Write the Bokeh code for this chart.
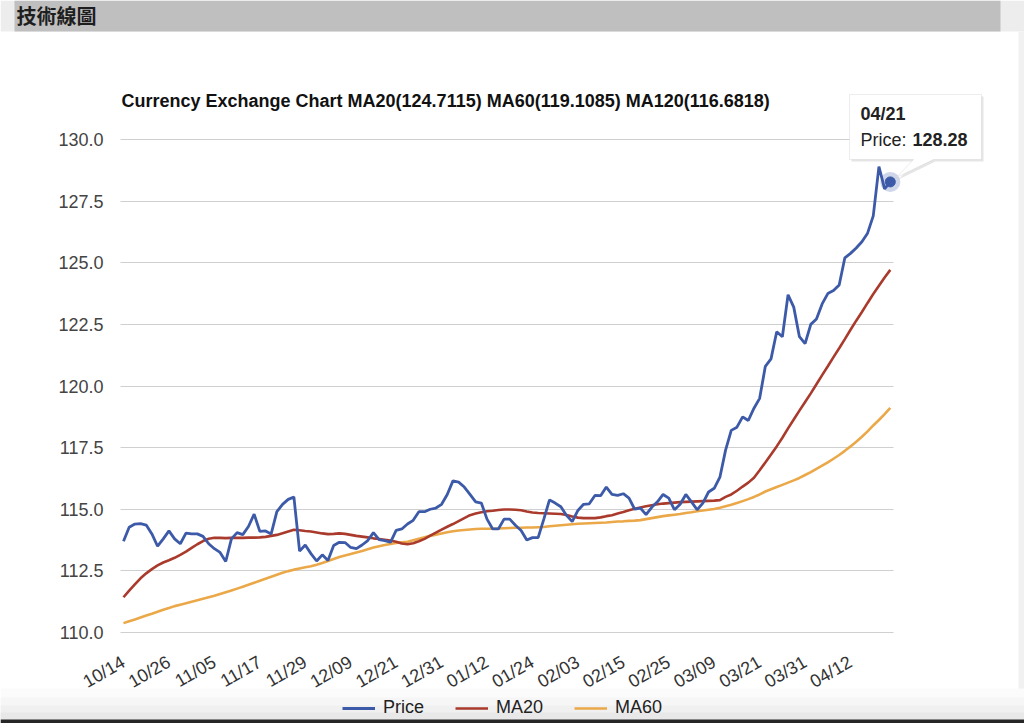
import math
from bokeh.plotting import figure
from bokeh.models import (Range1d, FixedTicker, PrintfTickFormatter, Legend, LegendItem,
                          Label, PolyAnnotation, BoxAnnotation)
from bokeh.embed import file_html
from bokeh.resources import INLINE

# ---------------- data ----------------
BANNER_TEXT = "技術線圖"
TITLE = "Currency Exchange Chart MA20(124.7115) MA60(119.1085) MA120(116.6818)"

PRICE = [
    113.70, 114.27, 114.40, 114.42, 114.36, 114.00, 113.50, 113.80, 114.12, 113.80,
    113.60, 114.03, 114.00, 114.00, 113.90, 113.60, 113.40, 113.25, 112.88, 113.80,
    114.05, 113.97, 114.30, 114.80, 114.10, 114.12, 114.00, 114.90, 115.20, 115.40,
    115.50, 113.30, 113.55, 113.20, 112.90, 113.15, 112.92, 113.53, 113.66, 113.65,
    113.45, 113.40, 113.55, 113.73, 114.05, 113.77, 113.73, 113.66, 114.14, 114.20,
    114.40, 114.55, 114.90, 114.90, 115.00, 115.05, 115.20, 115.60, 116.15, 116.10,
    115.90, 115.60, 115.30, 115.25, 114.60, 114.20, 114.20, 114.60, 114.60, 114.35,
    114.14, 113.75, 113.85, 113.85, 114.60, 115.38, 115.25, 115.10, 114.75, 114.50,
    114.95, 115.20, 115.22, 115.56, 115.55, 115.90, 115.60, 115.56, 115.63, 115.45,
    115.00, 115.05, 114.78, 115.08, 115.30, 115.60, 115.45, 114.98, 115.20, 115.60,
    115.30, 114.98, 115.25, 115.70, 115.85, 116.30, 117.40, 118.20, 118.33, 118.75,
    118.60, 119.10, 119.50, 120.80, 121.10, 122.20, 122.00, 123.70, 123.20, 122.00,
    121.72, 122.50, 122.72, 123.33, 123.75, 123.87, 124.10, 125.20, 125.38, 125.60,
    125.85, 126.20, 126.90, 128.90, 128.00, 128.28,
]

MA20 = [
    111.43, 111.70, 111.95, 112.20, 112.40, 112.57, 112.72, 112.84, 112.93, 113.03,
    113.15, 113.28, 113.43, 113.58, 113.71, 113.80, 113.84, 113.84, 113.83, 113.84,
    113.84, 113.84, 113.85, 113.85, 113.86, 113.88, 113.92, 113.96, 114.03, 114.10,
    114.17, 114.15, 114.12, 114.10, 114.06, 114.02, 113.99, 114.00, 114.02, 114.00,
    113.96, 113.92, 113.89, 113.86, 113.82, 113.79, 113.76, 113.73, 113.68, 113.61,
    113.58, 113.62, 113.70, 113.80, 113.93, 114.05, 114.17, 114.29, 114.40, 114.52,
    114.64, 114.76, 114.83, 114.88, 114.92, 114.94, 114.97, 114.99, 114.99, 114.98,
    114.96, 114.91, 114.87, 114.85, 114.84, 114.83, 114.82, 114.81, 114.77, 114.71,
    114.66, 114.64, 114.64, 114.64, 114.67, 114.72, 114.76, 114.83, 114.89, 114.96,
    115.02, 115.07, 115.12, 115.16, 115.20, 115.23, 115.25, 115.27, 115.29, 115.30,
    115.31, 115.32, 115.33, 115.34, 115.35, 115.37, 115.50, 115.60, 115.75, 115.92,
    116.08, 116.28, 116.58, 116.90, 117.22, 117.55, 117.90, 118.28, 118.64, 119.00,
    119.35, 119.70, 120.07, 120.44, 120.80, 121.17, 121.53, 121.90, 122.28, 122.65,
    123.00, 123.37, 123.73, 124.07, 124.40, 124.71,
]

MA60 = [
    110.38, 110.46, 110.53, 110.61, 110.69, 110.76, 110.84, 110.92, 110.99, 111.07,
    111.13, 111.19, 111.25, 111.31, 111.37, 111.43, 111.49, 111.56, 111.63, 111.70,
    111.78, 111.86, 111.94, 112.02, 112.10, 112.18, 112.26, 112.34, 112.42, 112.49,
    112.55, 112.60, 112.65, 112.69, 112.75, 112.82, 112.90, 112.98, 113.06, 113.12,
    113.18, 113.25, 113.31, 113.38, 113.45, 113.50, 113.55, 113.59, 113.63, 113.66,
    113.68, 113.74, 113.80, 113.86, 113.92, 113.97, 114.02, 114.07, 114.11, 114.14,
    114.16, 114.18, 114.20, 114.21, 114.21, 114.21, 114.22, 114.23, 114.24, 114.25,
    114.25, 114.26, 114.26, 114.27, 114.28, 114.31, 114.33, 114.35, 114.37, 114.39,
    114.41, 114.42, 114.43, 114.44, 114.45, 114.46, 114.48, 114.50, 114.51, 114.53,
    114.54, 114.56, 114.60, 114.64, 114.68, 114.72, 114.75, 114.78, 114.81, 114.85,
    114.88, 114.92, 114.95, 114.98, 115.01, 115.06, 115.12, 115.18, 115.25, 115.33,
    115.41, 115.50, 115.60, 115.72, 115.81, 115.90, 115.99, 116.08, 116.17, 116.27,
    116.39, 116.51, 116.64, 116.77, 116.90, 117.05, 117.20, 117.37, 117.55, 117.74,
    117.94, 118.16, 118.40, 118.62, 118.86, 119.11,
]

X_TICK_LABELS = ["10/14", "10/26", "11/05", "11/17", "11/29", "12/09", "12/21", "12/31",
                 "01/12", "01/24", "02/03", "02/15", "02/25", "03/09", "03/21", "03/31", "04/12"]
X_TICK_STEP = 8
Y_TICKS = [110.0, 112.5, 115.0, 117.5, 120.0, 122.5, 125.0, 127.5, 130.0]

TOOLTIP_DATE = "04/21"
TOOLTIP_PRICE = "128.28"
LAST_PRICE = 128.28

# ---------------- layout / style ----------------
FONT = "Liberation Sans"
C_PRICE = "#3c5aa8"
C_MA20 = "#a93a2c"
C_MA60 = "#eba848"

W, H = 1024, 723          # canvas (the page renders it at the top-left corner)
# plot area on the page (px)
PA_L, PA_R, PA_T, PA_B = 120, 893, 139, 632
X0_PX, X_PX_PER = 123.0, 5.68   # page x of first point, px per point
Y_LO, Y_HI = 110.0, 130.0

x = list(range(len(PRICE)))


def dx(px):
    return (px - X0_PX) / X_PX_PER


def dy(py):
    return Y_HI - (py - PA_T) / (PA_B - PA_T) * (Y_HI - Y_LO)


p = figure(width=W, height=H,
           x_range=Range1d(dx(0), dx(W)),
           y_range=Range1d(dy(H), dy(0)),
           toolbar_location=None, output_backend="svg",
           min_border_left=0, min_border_right=0, min_border_top=0, min_border_bottom=0)
p.background_fill_color = "white"
p.border_fill_color = "white"
p.outline_line_color = None

# banner band
p.add_layout(BoxAnnotation(left=dx(0), right=dx(W), top=dy(0), bottom=dy(31),
                           fill_color="#ededed", fill_alpha=1, line_color=None, level="underlay"))
p.add_layout(BoxAnnotation(left=dx(14), right=dx(1000), top=dy(0), bottom=dy(31),
                           fill_color="#bfbfbf", fill_alpha=1, line_color=None, level="underlay"))
p.add_layout(Label(x=dx(16), y=dy(15), text=BANNER_TEXT, text_font="Noto Sans CJK TC",
                   text_font_style="bold", text_font_size="20px", text_color="#1e1e1e",
                   text_baseline="middle", text_align="left"))
# faint right frame edge, bottom shading and the dark bottom edge
p.add_layout(BoxAnnotation(left=dx(1018), right=dx(W), top=dy(31), bottom=dy(H),
                           fill_color="#f1f1f1", fill_alpha=1, line_color=None, level="underlay"))
for top_px, col in [(688, "#fbfbfb"), (697, "#f6f6f6"), (705, "#f0f0f0"), (712, "#e8e8e8"),
                    (719, "#262626")]:
    p.add_layout(BoxAnnotation(left=dx(0), right=dx(W), top=dy(top_px),
                               bottom=dy(H), fill_color=col, fill_alpha=1,
                               line_color=None, level="underlay"))

# chart title
p.add_layout(Label(x=dx(121), y=dy(100), text=TITLE, text_font=FONT, text_font_size="18px",
                   text_font_style="bold", text_color="#111111", text_baseline="middle",
                   text_align="left"))

# grid
p.xgrid.grid_line_color = None
p.ygrid.ticker = FixedTicker(ticks=Y_TICKS)
p.ygrid.grid_line_color = "#cfcfcf"
p.ygrid.grid_line_width = 1
p.ygrid.bounds = (Y_LO, Y_HI)
p.ygrid.cross_bounds = (dx(PA_L), dx(PA_R))

# y axis
p.yaxis.fixed_location = dx(PA_L)
p.yaxis.bounds = (Y_LO, Y_HI)
p.yaxis.ticker = FixedTicker(ticks=Y_TICKS)
p.yaxis.formatter = PrintfTickFormatter(format="%.1f")
p.yaxis.axis_line_color = None
p.yaxis.major_tick_line_color = None
p.yaxis.minor_tick_line_color = None
p.yaxis.major_tick_out = 0
p.yaxis.major_tick_in = 0
p.yaxis.major_label_standoff = 17
p.yaxis.major_label_text_font = FONT
p.yaxis.major_label_text_font_size = "18px"
p.yaxis.major_label_text_color = "#444444"

# x axis
tick_pos = [i * X_TICK_STEP for i in range(len(X_TICK_LABELS))]
p.xaxis.fixed_location = Y_LO
p.xaxis.bounds = (0, len(PRICE) - 1)
p.xaxis.ticker = FixedTicker(ticks=tick_pos)
p.xaxis.major_label_overrides = {t: lab for t, lab in zip(tick_pos, X_TICK_LABELS)}
p.xaxis.axis_line_color = None
p.xaxis.major_tick_line_color = None
p.xaxis.minor_tick_line_color = None
p.xaxis.major_tick_out = 0
p.xaxis.major_tick_in = 0
p.xaxis.major_label_standoff = 28
p.xaxis.major_label_orientation = math.pi / 6
p.xaxis.major_label_text_font = FONT
p.xaxis.major_label_text_font_size = "18px"
p.xaxis.major_label_text_color = "#333333"

# series
r60 = p.line(x, MA60, line_color=C_MA60, line_width=2.6)
r20 = p.line(x, MA20, line_color=C_MA20, line_width=2.6)
rp = p.line(x, PRICE, line_color=C_PRICE, line_width=2.8)

# highlighted last point
p.scatter([x[-1]], [LAST_PRICE], size=20, fill_color=C_PRICE, fill_alpha=0.25, line_color=None)
p.scatter([x[-1]], [LAST_PRICE], size=10, fill_color=C_PRICE, line_color=C_PRICE)

legend = Legend(items=[LegendItem(label="Price", renderers=[rp]),
                       LegendItem(label="MA20", renderers=[r20]),
                       LegendItem(label="MA60", renderers=[r60])],
                orientation="horizontal", location=(342, 5), padding=0, margin=0,
                spacing=31, label_standoff=8, glyph_width=33, glyph_height=16, label_height=16,
                label_text_font=FONT, label_text_font_size="18px", label_text_color="#222222",
                border_line_color=None, background_fill_alpha=0)
p.add_layout(legend, "center")

# tooltip callout
tip_px = [(849, 94), (981, 94), (981, 159), (933, 159), (896, 177), (913, 159), (849, 159)]
p.add_layout(PolyAnnotation(xs=[dx(a + 2) for a, b in tip_px], ys=[dy(b + 2) for a, b in tip_px],
                            fill_color="black", fill_alpha=0.10, line_color=None, level="overlay"))
p.add_layout(PolyAnnotation(xs=[dx(a) for a, b in tip_px], ys=[dy(b) for a, b in tip_px],
                            fill_color="white", fill_alpha=1.0, line_color="#c4c4c4", line_width=1,
                            level="overlay"))
p.add_layout(Label(x=dx(860), y=dy(113), text=TOOLTIP_DATE, text_font=FONT, text_font_size="18px",
                   text_font_style="bold", text_color="#222222", text_baseline="middle", level="overlay"))
p.add_layout(Label(x=dx(860), y=dy(139), text="Price:", text_font=FONT, text_font_size="18px",
                   text_color="#222222", text_baseline="middle", level="overlay"))
p.add_layout(Label(x=dx(912), y=dy(139), text=TOOLTIP_PRICE, text_font=FONT, text_font_size="18px",
                   text_font_style="bold", text_color="#222222", text_baseline="middle", level="overlay"))

open("out.html", "w").write(file_html(p, INLINE))
